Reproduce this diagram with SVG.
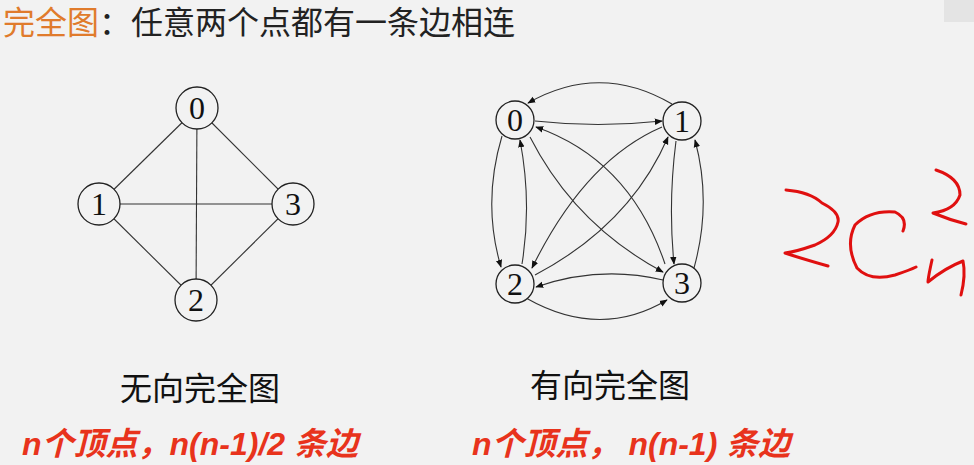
<svg xmlns="http://www.w3.org/2000/svg" width="974" height="465" viewBox="0 0 974 465">
<style>
.n circle{fill:#f2f2f2;stroke:#222;stroke-width:1.3}
.n text{font-family:"Liberation Serif",serif;font-size:32px;text-anchor:middle;fill:#111}
.e line,.e path{stroke:#333;stroke-width:1.1;fill:none}
.d path{marker-end:url(#a)}
.lbl{font-family:"Noto Sans CJK SC",sans-serif;font-size:32px;fill:#111;text-anchor:middle}
.red{font-family:"Liberation Sans","Noto Sans CJK SC",sans-serif;font-size:32px;fill:#e8331c;font-style:italic;font-weight:bold}
.hw{stroke:#e01010;stroke-width:3;fill:none;stroke-linecap:round;stroke-linejoin:round}
</style>
<defs><marker id="a" viewBox="0 0 10 10" refX="9" refY="5" markerWidth="8" markerHeight="8" orient="auto" markerUnits="userSpaceOnUse"><path d="M0,1 L10,5 L0,9z" fill="#111"/></marker></defs>
<rect width="974" height="465" fill="#f2f2f2"/>
<rect x="944" y="0" width="30" height="22" fill="#e4e4e4"/>
<text x="3" y="34" font-family="Noto Sans CJK SC,sans-serif" font-size="32"><tspan fill="#e07b2c">完全图</tspan><tspan fill="#222">：任意两个点都有一条边相连</tspan></text>
<g id="edges-undirected" class="e">
<line x1="197" y1="108" x2="196" y2="300"/><line x1="99" y1="204" x2="293" y2="204"/>
<line x1="197" y1="108" x2="99" y2="204"/><line x1="197" y1="108" x2="293" y2="204"/>
<line x1="99" y1="204" x2="196" y2="300"/><line x1="293" y1="204" x2="196" y2="300"/>
</g>
<g id="u0" class="n"><circle cx="197" cy="108" r="21"/><text x="197" y="119">0</text></g>
<g id="u1" class="n"><circle cx="99" cy="204" r="21"/><text x="99" y="215">1</text></g>
<g id="u3" class="n"><circle cx="293" cy="204" r="21"/><text x="293" y="215">3</text></g>
<g id="u2" class="n"><circle cx="196" cy="300" r="21"/><text x="196" y="311">2</text></g>
<g id="edges-directed" class="e d">
<path d="M535,121 Q598,128 662,121"/>
<path d="M672,104 Q600,62 528,103"/>
<path d="M676,141 Q668,203 674,264"/>
<path d="M694,268 Q712,203 695,140"/>
<path d="M502,136 Q482,203 501,267"/>
<path d="M522,264 Q532,203 520,140"/>
<path d="M663,280 Q600,265 536,287"/>
<path d="M526,298 Q600,340 667,300"/>
<path d="M530,137 Q575,225 663,272"/>
<path d="M665,264 Q630,160 536,127"/>
<path d="M662,127 Q585,160 532,268"/>
<path d="M535,275 Q630,225 668,137"/>
</g>
<g id="d0" class="n"><circle cx="515" cy="120" r="19"/><text x="515" y="131">0</text></g>
<g id="d1" class="n"><circle cx="682" cy="121" r="19"/><text x="682" y="132">1</text></g>
<g id="d2" class="n"><circle cx="515" cy="284" r="19"/><text x="515" y="295">2</text></g>
<g id="d3" class="n"><circle cx="682" cy="283" r="19"/><text x="682" y="294">3</text></g>
<text class="lbl" x="200" y="400">无向完全图</text>
<text class="lbl" x="610" y="397">有向完全图</text>
<text class="red" x="22" y="455">n个顶点，n(n-1)/2 条边</text>
<text class="red" x="472" y="455">n个顶点，  n(n-1) 条边</text>
<g id="handwriting">
<path class="hw" d="M786,190 Q810,192 822,203 Q840,212 838,222 Q835,236 815,245 Q795,252 785,253 Q800,258 828,266"/>
<path class="hw" d="M903,231 Q908,218 895,212 Q870,210 855,225 Q845,245 857,268 Q870,282 895,275 Q910,270 916,267"/>
<path class="hw" d="M936,170 Q960,178 960,195 Q955,210 933,213 Q950,220 966,224"/>
<path class="hw" d="M932,260 Q928,278 928,282 Q945,268 963,261 Q966,275 961,295"/>
</g>
</svg>
